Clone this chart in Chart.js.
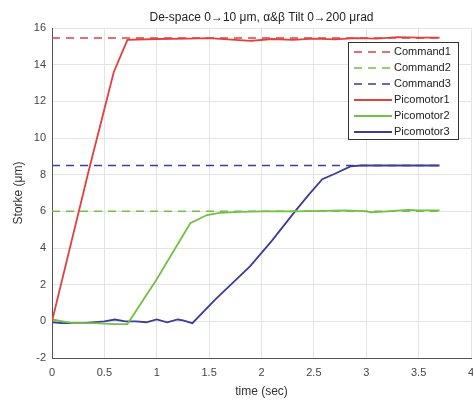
<!DOCTYPE html>
<html>
<head>
<meta charset="utf-8">
<script src="https://cdn.jsdelivr.net/npm/chart.js@4/dist/chart.umd.min.js"></script>
<style>
  html, body { margin: 0; padding: 0; background: #fff; }
  #wrap { width: 473px; height: 401px; }
</style>
</head>
<body>
<div id="wrap"><canvas id="grafica"></canvas></div>
<script>
// valores
const tiempoComando = [0, 3.7];
const comando1 = [15.45, 15.45];
const comando2 = [6, 6];
const comando3 = [8.5, 8.5];

const tiempoPico1 = [0, 0.35, 0.59, 0.72, 1.0, 1.3, 1.5, 1.75, 1.9, 2.1, 2.3, 2.5, 2.7, 2.9, 3.1, 3.3, 3.5, 3.7];
const pico1 = [0, 8.2, 13.6, 15.35, 15.4, 15.42, 15.45, 15.35, 15.3, 15.4, 15.35, 15.42, 15.38, 15.45, 15.42, 15.5, 15.47, 15.47];

const tiempoPico2 = [0, 0.1, 0.2, 0.4, 0.6, 0.72, 1.0, 1.32, 1.48, 1.6, 1.8, 2.0, 2.3, 2.6, 2.8, 3.0, 3.05, 3.2, 3.4, 3.5, 3.7];
const pico2 = [0.1, 0, -0.1, -0.1, -0.15, -0.15, 2.3, 5.35, 5.8, 5.92, 5.97, 6.0, 6.0, 6.02, 6.05, 6.0, 5.95, 6.0, 6.08, 6.05, 6.05];

const tiempoPico3 = [0, 0.1, 0.3, 0.5, 0.6, 0.7, 0.8, 0.9, 1.0, 1.1, 1.2, 1.25, 1.34, 1.56, 1.89, 2.1, 2.32, 2.45, 2.58, 2.7, 2.85, 2.95, 3.2, 3.5, 3.7];
const pico3 = [-0.05, -0.1, -0.1, 0, 0.1, 0, 0, -0.05, 0.1, -0.05, 0.1, 0.05, -0.1, 1.2, 3.0, 4.4, 6.0, 6.9, 7.75, 8.05, 8.45, 8.5, 8.5, 8.5, 8.5];

const ticksX = [0, 0.5, 1, 1.5, 2, 2.5, 3, 3.5, 4];
const ticksY = [-2, 0, 2, 4, 6, 8, 10, 12, 14, 16];

const ROJO = '#e2403c';
const VERDE = '#72c044';
const AZUL = '#3c3c9e';

function puntos(xs, ys) {
    return xs.map((x, i) => ({x: x, y: ys[i]}));
}

function serie(label, xs, ys, color, discontinua) {
    return {
        label: label,
        data: puntos(xs, ys),
        borderColor: color,
        backgroundColor: color,
        borderWidth: discontinua ? 1.5 : 1.8,
        borderDash: discontinua ? [8, 6] : [],
        pointRadius: 0,
        tension: 0,
        fill: false
    };
}

// leyenda dentro del area, arriba a la derecha
const leyendaInterna = {
    id: 'leyendaInterna',
    afterDraw(chart) {
        const ctx = chart.ctx;
        const x0 = 348, y0 = 42, w = 110, h = 97;
        ctx.save();
        ctx.fillStyle = '#fff';
        ctx.fillRect(x0, y0, w, h);
        ctx.strokeStyle = '#333';
        ctx.lineWidth = 1;
        ctx.setLineDash([]);
        ctx.strokeRect(x0 + 0.5, y0 + 0.5, w, h);
        ctx.font = '11px "Liberation Sans", Arial, sans-serif';
        ctx.textBaseline = 'middle';
        chart.data.datasets.forEach((ds, i) => {
            const y = y0 + 10 + i * 16;
            ctx.strokeStyle = ds.borderColor;
            ctx.lineWidth = ds.borderWidth;
            ctx.setLineDash(ds.borderDash);
            ctx.beginPath();
            ctx.moveTo(x0 + 6, y);
            ctx.lineTo(x0 + 44, y);
            ctx.stroke();
            ctx.fillStyle = '#222';
            ctx.fillText(ds.label, x0 + 46, y);
        });
        ctx.restore();
    }
};

const ctx = document.getElementById('grafica').getContext('2d');
new Chart(ctx, {
    type: 'line',
    data: {
        datasets: [
            serie('Command1', tiempoComando, comando1, ROJO, true),
            serie('Command2', tiempoComando, comando2, VERDE, true),
            serie('Command3', tiempoComando, comando3, AZUL, true),
            serie('Picomotor1', tiempoPico1, pico1, ROJO, false),
            serie('Picomotor2', tiempoPico2, pico2, VERDE, false),
            serie('Picomotor3', tiempoPico3, pico3, AZUL, false)
        ]
    },
    options: {
        responsive: true,
        maintainAspectRatio: false,
        animation: false,
        layout: { padding: { left: 0, right: 2, top: 0, bottom: 0 } },
        plugins: {
            legend: { display: false },
            tooltip: { enabled: false },
            title: {
                display: true,
                fullSize: false,
                text: 'De-space 0\u219210 \u03bcm, \u03b1&\u03b2 Tilt 0\u2192200 \u03bcrad',
                color: '#222',
                font: { family: '"Liberation Sans", Arial, sans-serif', size: 12, weight: 'normal' },
                padding: { top: 10, bottom: 3.6 }
            }
        },
        scales: {
            x: {
                type: 'linear',
                min: 0,
                max: 4,
                afterBuildTicks: s => { s.ticks = ticksX.map(v => ({value: v})); },
                afterFit: s => { s.height = 43; s.paddingRight = 0; s.paddingLeft = 0; },
                ticks: {
                    color: '#444',
                    font: { family: '"Liberation Sans", Arial, sans-serif', size: 11 },
                    padding: 8,
                    maxRotation: 0,
                    callback: v => String(v)
                },
                grid: { color: '#e4e4e4', drawTicks: false },
                border: { color: '#555', width: 1 },
                title: {
                    display: true,
                    text: 'time (sec)',
                    color: '#333',
                    font: { family: '"Liberation Sans", Arial, sans-serif', size: 12 },
                    padding: { top: 0, bottom: 2 }
                }
            },
            y: {
                min: -2,
                max: 16,
                afterBuildTicks: s => { s.ticks = ticksY.map(v => ({value: v})); },
                afterFit: s => { s.width = 52; s.paddingTop = 0; s.paddingBottom = 0; },
                ticks: {
                    color: '#444',
                    font: { family: '"Liberation Sans", Arial, sans-serif', size: 11 },
                    padding: 6
                },
                grid: { color: '#e4e4e4', drawTicks: false },
                border: { color: '#555', width: 1 },
                title: {
                    display: true,
                    text: 'Storke (\u03bcm)',
                    color: '#333',
                    font: { family: '"Liberation Sans", Arial, sans-serif', size: 12 },
                    padding: { top: 11, bottom: 0 }
                }
            }
        }
    },
    plugins: [leyendaInterna]
});
</script>
</body>
</html>
